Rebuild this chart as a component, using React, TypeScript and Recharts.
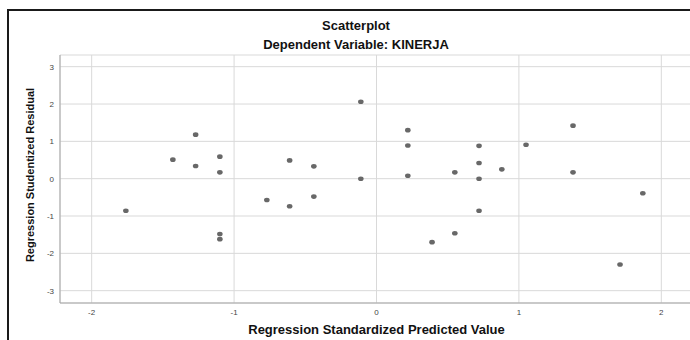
import React from 'react';
import {
  ScatterChart,
  Scatter,
  XAxis,
  YAxis,
  CartesianGrid
} from 'recharts';

const predictedValues = [
  -1.76, -1.43, -1.27, -1.27, -1.1, -1.1, -1.1, -1.1, -0.77, -0.61, -0.61,
  -0.44, -0.44, -0.11, -0.11, 0.22, 0.22, 0.22, 0.39, 0.55, 0.55, 0.72, 0.72,
  0.72, 0.72, 0.88, 1.05, 1.38, 1.38, 1.71, 1.87
];
const studentizedResiduals = [
  -0.86, 0.51, 1.18, 0.34, 0.59, 0.17, -1.48, -1.62, -0.57, 0.49, -0.74,
  0.33, -0.48, 2.06, 0.0, 1.3, 0.89, 0.08, -1.7, 0.17, -1.46, 0.88, 0.42,
  0.0, -0.86, 0.25, 0.91, 1.42, 0.17, -2.3, -0.39
];
const xTicks = [-2, -1, 0, 1, 2];
const yTicks = [-3, -2, -1, 0, 1, 2, 3];

const data = predictedValues.map((x, i) => ({ x, y: studentizedResiduals[i] }));

const FONT = '"Liberation Sans", Arial, sans-serif';

const Dot = (props: any) => (
  <ellipse cx={props.cx} cy={props.cy} rx={2.8} ry={2.3} fill="#686868" />
);

export default function App() {
  return (
    <div
      style={{
        position: 'absolute',
        left: 0,
        top: 0,
        width: 690,
        height: 340,
        overflow: 'hidden',
        background: '#fff',
        fontFamily: FONT
      }}
    >
      <div
        style={{
          position: 'absolute',
          left: 7,
          top: 9,
          width: 760,
          height: 400,
          borderTop: '2px solid #1a1a1a',
          borderLeft: '2px solid #1a1a1a'
        }}
      />
      <svg
        width={690}
        height={60}
        style={{ position: 'absolute', left: 0, top: 0 }}
      >
        <text x={356} y={30} textAnchor="middle" fontSize={13} fontWeight="bold" fill="#111" fontFamily={FONT}>
          Scatterplot
        </text>
        <text x={356} y={49} textAnchor="middle" fontSize={13} fontWeight="bold" fill="#111" fontFamily={FONT}>
          Dependent Variable: KINERJA
        </text>
      </svg>
      <div style={{ position: 'absolute', left: 0, top: 0 }}>
        <ScatterChart
          width={720}
          height={340}
          margin={{ top: 55, right: 27, bottom: 0, left: 0 }}
        >
          <CartesianGrid stroke="#d9d9d9" />
          <XAxis
            type="number"
            dataKey="x"
            domain={[-2.2225, 2.2225]}
            ticks={xTicks}
            allowDataOverflow
            height={37}
            tickLine={false}
            tickSize={4}
            tickMargin={2}
            axisLine={{ stroke: '#a6a6a6' }}
            tick={{ fontSize: 8, fill: '#444', fontFamily: FONT }}
            label={{
              content: ({ viewBox }: any) => (
                <text
                  x={viewBox.x + viewBox.width / 2}
                  y={334}
                  textAnchor="middle"
                  fontSize={13}
                  fontWeight="bold"
                  fill="#111"
                  fontFamily={FONT}
                >
                  Regression Standardized Predicted Value
                </text>
              )
            }}
          />
          <YAxis
            type="number"
            dataKey="y"
            domain={[-3.33, 3.313]}
            ticks={yTicks}
            allowDataOverflow
            width={60}
            tickLine={false}
            tickSize={4}
            tickMargin={2}
            axisLine={{ stroke: '#a6a6a6' }}
            tick={{ fontSize: 8, fill: '#444', fontFamily: FONT }}
            label={{
              content: ({ viewBox }: any) => {
                const cx = 30;
                const cy = viewBox.y + viewBox.height / 2 - 4;
                return (
                  <text
                    x={cx}
                    y={cy}
                    transform={`rotate(-90, ${cx}, ${cy})`}
                    textAnchor="middle"
                    dominantBaseline="central"
                    fontSize={11}
                    fontWeight="bold"
                    fill="#111"
                    fontFamily={FONT}
                  >
                    Regression Studentized Residual
                  </text>
                );
              }
            }}
          />
          <Scatter data={data} shape={<Dot />} isAnimationActive={false} />
        </ScatterChart>
      </div>
    </div>
  );
}
